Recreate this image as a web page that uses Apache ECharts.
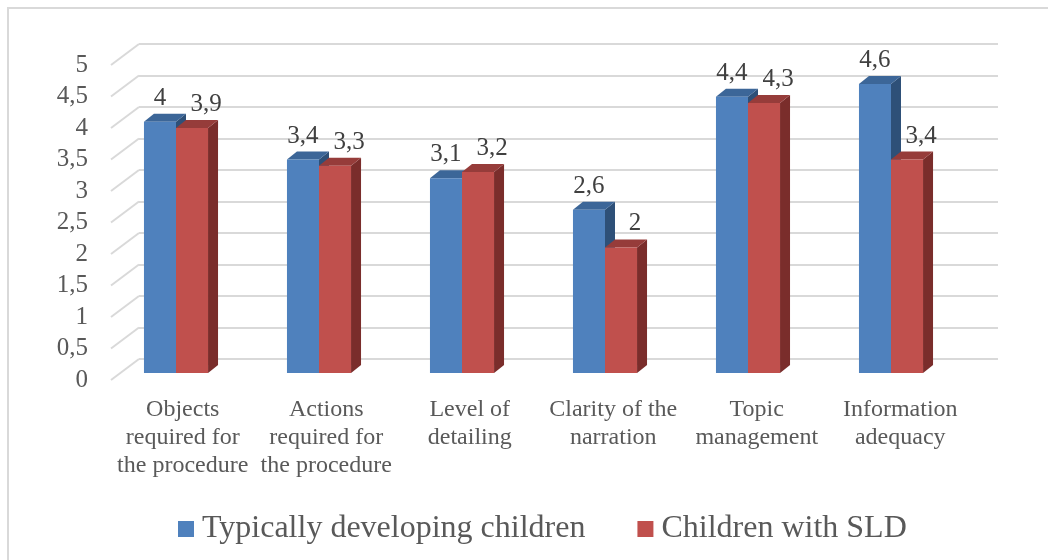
<!DOCTYPE html>
<html>
<head>
<meta charset="utf-8">
<script src="https://cdn.jsdelivr.net/npm/echarts@6/dist/echarts.min.js"></script>
<style>
  html, body { margin: 0; background: #fff; }
  #main { width: 1048px; height: 560px; }
</style>
</head>
<body>
<div id="main"></div>
<script>
// data
const categories = [
  'Objects\nrequired for\nthe procedure',
  'Actions\nrequired for\nthe procedure',
  'Level of\ndetailing',
  'Clarity of the\nnarration',
  'Topic\nmanagement',
  'Information\nadequacy'
];
const typical = [4, 3.4, 3.1, 2.6, 4.4, 4.6];
const sld = [3.9, 3.3, 3.2, 2, 4.3, 3.4];
const yTicks = [0, 0.5, 1, 1.5, 2, 2.5, 3, 3.5, 4, 4.5, 5];
const seriesNames = ['Typically developing children', 'Children with SLD'];

const FONT = '"Liberation Serif", "Times New Roman", serif';
const GRID_COLOR = '#d9d9d9';
// depth of the floor (front -> back wall) and of each bar
const FLOOR_DX = 28, FLOOR_DY = 21;
const BAR_DX = 10, BAR_DY = 8;

const faces = [
  { front: '#4F81BD', top: '#3C6698', side: '#2E5078', labelShift: 0 },
  { front: '#C0504D', top: '#963C3A', side: '#7A2D2B', labelShift: 14 }
];

const fmt = v => String(v).replace('.', ',');

// 3D-looking bar: front face, top face, right side face + value label
function makeBar(idx) {
  const c = faces[idx];
  return function (params, api) {
    const cat = api.value(0), val = api.value(1);
    const base = api.coord([cat, 0]);
    const top = api.coord([cat, val]);
    const w = api.size([1, 0])[0] * 0.224;
    const x0 = idx === 0 ? base[0] - w : base[0];
    const ty = top[1], by = base[1];
    return {
      type: 'group',
      children: [
        {
          type: 'polygon',
          shape: { points: [[x0 + w, ty], [x0 + w + BAR_DX, ty - BAR_DY], [x0 + w + BAR_DX, by - BAR_DY], [x0 + w, by]] },
          style: { fill: c.side }
        },
        {
          type: 'polygon',
          shape: { points: [[x0, ty], [x0 + BAR_DX, ty - BAR_DY], [x0 + w + BAR_DX, ty - BAR_DY], [x0 + w, ty]] },
          style: { fill: c.top }
        },
        {
          type: 'rect',
          shape: { x: x0, y: ty, width: w, height: by - ty },
          style: { fill: c.front }
        },
        {
          type: 'text',
          x: x0 + w / 2 + c.labelShift,
          y: ty - BAR_DY - 3,
          style: {
            text: fmt(val),
            fill: '#404040',
            fontSize: 25,
            fontFamily: FONT,
            align: 'center',
            verticalAlign: 'bottom'
          }
        }
      ]
    };
  };
}

// diagonal floor lines from the front edge to the back wall
function diagLine(params, api) {
  const y = api.coord([0, api.value(1)])[1];
  const x = params.coordSys.x;
  return {
    type: 'line',
    shape: { x1: x - FLOOR_DX, y1: y + FLOOR_DY, x2: x, y2: y },
    style: { stroke: GRID_COLOR, lineWidth: 2 }
  };
}

const chart = echarts.init(document.getElementById('main'));

const hiddenX = {
  type: 'category', data: categories,
  axisLine: { show: false }, axisTick: { show: false }, axisLabel: { show: false }
};
const valueY = { type: 'value', min: 0, max: 5, interval: 0.5 };

chart.setOption({
  animation: false,
  backgroundColor: '#fff',
  graphic: [{
    type: 'rect',
    shape: { x: 8, y: 8, width: 1100, height: 600 },
    style: { fill: 'none', stroke: GRID_COLOR, lineWidth: 2 },
    silent: true
  }],
  legend: {
    data: seriesNames,
    left: 173,
    top: 508,
    icon: 'rect',
    itemWidth: 16,
    itemHeight: 16,
    itemGap: 52,
    textStyle: { fontFamily: FONT, fontSize: 32, color: '#595959', padding: [0, 0, 0, 3] }
  },
  grid: [
    { left: 111, right: 76, top: 65, bottom: 180 },   // front plane (labels)
    { left: 139, right: 50, top: 44, bottom: 201 },   // back wall
    { left: 104.5, right: 85.5, top: 59, bottom: 187 } // bar plane
  ],
  xAxis: [
    {
      gridIndex: 0, type: 'category', data: categories,
      axisLine: { show: false }, axisTick: { show: false },
      axisLabel: { interval: 0, margin: 16, color: '#595959', fontFamily: FONT, fontSize: 24, lineHeight: 28 }
    },
    Object.assign({ gridIndex: 1 }, hiddenX),
    Object.assign({ gridIndex: 2 }, hiddenX)
  ],
  yAxis: [
    Object.assign({ gridIndex: 0 }, valueY, {
      axisLine: { show: false }, axisTick: { show: false }, splitLine: { show: false },
      axisLabel: { margin: 23, color: '#595959', fontFamily: FONT, fontSize: 25, formatter: fmt }
    }),
    Object.assign({ gridIndex: 1 }, valueY, {
      axisLine: { show: false }, axisTick: { show: false }, axisLabel: { show: false },
      splitLine: { show: true, lineStyle: { color: GRID_COLOR, width: 2 } }
    }),
    Object.assign({ gridIndex: 2 }, valueY, {
      axisLine: { show: false }, axisTick: { show: false }, axisLabel: { show: false },
      splitLine: { show: false }
    })
  ],
  series: [
    {
      type: 'custom', name: 'floor', xAxisIndex: 1, yAxisIndex: 1,
      silent: true, clip: false,
      data: yTicks.map(v => [0, v]),
      renderItem: diagLine
    },
    {
      type: 'custom', name: seriesNames[0], xAxisIndex: 2, yAxisIndex: 2,
      clip: false, itemStyle: { color: faces[0].front },
      data: typical.map((v, i) => [i, v]),
      encode: { x: 0, y: 1 },
      renderItem: makeBar(0)
    },
    {
      type: 'custom', name: seriesNames[1], xAxisIndex: 2, yAxisIndex: 2,
      clip: false, itemStyle: { color: faces[1].front },
      data: sld.map((v, i) => [i, v]),
      encode: { x: 0, y: 1 },
      renderItem: makeBar(1)
    }
  ]
});
</script>
</body>
</html>
